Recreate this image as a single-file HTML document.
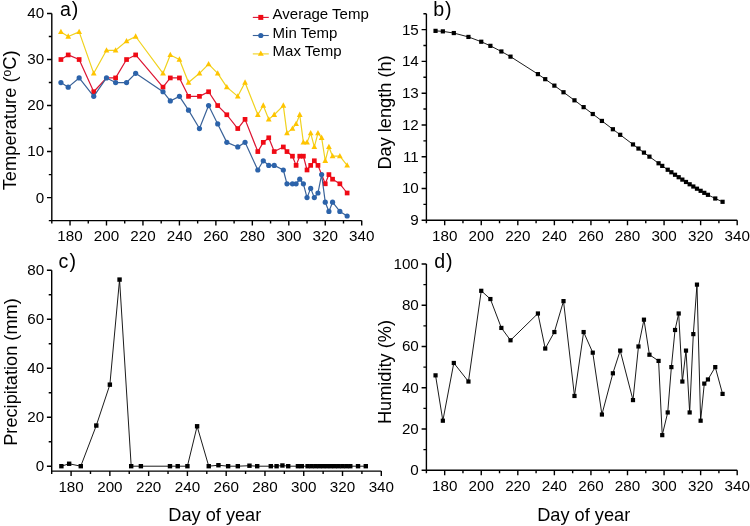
<!DOCTYPE html>
<html><head><meta charset="utf-8"><style>
html,body{margin:0;padding:0;background:#fff;width:750px;height:526px;overflow:hidden}
svg{display:block;will-change:transform}
</style></head><body>
<svg width="750" height="526" viewBox="0 0 750 526">
<g font-family="Liberation Sans, sans-serif" font-size="15.2" fill="#000">
<path d="M51.8 13.5V220.61H361.73" fill="none" stroke="#000" stroke-width="1.4"/>
<path d="M51.8 197.6h-4.8M51.8 151.57h-4.8M51.8 105.55h-4.8M51.8 59.53h-4.8M51.8 13.5h-4.8M51.8 220.61h-3M51.8 174.59h-3M51.8 128.56h-3M51.8 82.54h-3M51.8 36.51h-3M70.03 220.61v5M106.49 220.61v5M142.95 220.61v5M179.42 220.61v5M215.88 220.61v5M252.34 220.61v5M288.8 220.61v5M325.26 220.61v5M361.73 220.61v5M51.8 220.61v3M88.26 220.61v3M124.72 220.61v3M161.19 220.61v3M197.65 220.61v3M234.11 220.61v3M270.57 220.61v3M307.03 220.61v3M343.5 220.61v3" stroke="#000" stroke-width="1.4"/>
<text x="70.03" y="241.11" text-anchor="middle">180</text>
<text x="106.49" y="241.11" text-anchor="middle">200</text>
<text x="142.95" y="241.11" text-anchor="middle">220</text>
<text x="179.42" y="241.11" text-anchor="middle">240</text>
<text x="215.88" y="241.11" text-anchor="middle">260</text>
<text x="252.34" y="241.11" text-anchor="middle">280</text>
<text x="288.8" y="241.11" text-anchor="middle">300</text>
<text x="325.26" y="241.11" text-anchor="middle">320</text>
<text x="361.73" y="241.11" text-anchor="middle">340</text>
<text x="44.2" y="202.5" text-anchor="end">0</text>
<text x="44.2" y="156.47" text-anchor="end">10</text>
<text x="44.2" y="110.45" text-anchor="end">20</text>
<text x="44.2" y="64.43" text-anchor="end">30</text>
<text x="44.2" y="18.4" text-anchor="end">40</text>
<path d="M426.4 13.73V220.3H737.19" fill="none" stroke="#000" stroke-width="1.4"/>
<path d="M426.4 220.3h-4.8M426.4 188.52h-4.8M426.4 156.74h-4.8M426.4 124.96h-4.8M426.4 93.18h-4.8M426.4 61.4h-4.8M426.4 29.62h-4.8M426.4 204.41h-3M426.4 172.63h-3M426.4 140.85h-3M426.4 109.07h-3M426.4 77.29h-3M426.4 45.51h-3M426.4 13.73h-3M444.68 220.3v5M481.25 220.3v5M517.81 220.3v5M554.37 220.3v5M590.94 220.3v5M627.5 220.3v5M664.07 220.3v5M700.63 220.3v5M737.19 220.3v5M426.4 220.3v3M462.96 220.3v3M499.53 220.3v3M536.09 220.3v3M572.66 220.3v3M609.22 220.3v3M645.78 220.3v3M682.35 220.3v3M718.91 220.3v3" stroke="#000" stroke-width="1.4"/>
<text x="444.68" y="240.8" text-anchor="middle">180</text>
<text x="481.25" y="240.8" text-anchor="middle">200</text>
<text x="517.81" y="240.8" text-anchor="middle">220</text>
<text x="554.37" y="240.8" text-anchor="middle">240</text>
<text x="590.94" y="240.8" text-anchor="middle">260</text>
<text x="627.5" y="240.8" text-anchor="middle">280</text>
<text x="664.07" y="240.8" text-anchor="middle">300</text>
<text x="700.63" y="240.8" text-anchor="middle">320</text>
<text x="737.19" y="240.8" text-anchor="middle">340</text>
<text x="418.8" y="225.2" text-anchor="end">9</text>
<text x="418.8" y="193.42" text-anchor="end">10</text>
<text x="418.8" y="161.64" text-anchor="end">11</text>
<text x="418.8" y="129.86" text-anchor="end">12</text>
<text x="418.8" y="98.08" text-anchor="end">13</text>
<text x="418.8" y="66.3" text-anchor="end">14</text>
<text x="418.8" y="34.52" text-anchor="end">15</text>
<path d="M51.7 270.28V471.1H381.3" fill="none" stroke="#000" stroke-width="1.4"/>
<path d="M51.7 466.2h-4.8M51.7 417.22h-4.8M51.7 368.24h-4.8M51.7 319.26h-4.8M51.7 270.28h-4.8M51.7 441.71h-3M51.7 392.73h-3M51.7 343.75h-3M51.7 294.77h-3M71.09 471.1v5M109.86 471.1v5M148.64 471.1v5M187.42 471.1v5M226.19 471.1v5M264.97 471.1v5M303.74 471.1v5M342.52 471.1v5M381.3 471.1v5M51.7 471.1v3M90.48 471.1v3M129.25 471.1v3M168.03 471.1v3M206.8 471.1v3M245.58 471.1v3M284.36 471.1v3M323.13 471.1v3M361.91 471.1v3" stroke="#000" stroke-width="1.4"/>
<text x="71.09" y="491.6" text-anchor="middle">180</text>
<text x="109.86" y="491.6" text-anchor="middle">200</text>
<text x="148.64" y="491.6" text-anchor="middle">220</text>
<text x="187.42" y="491.6" text-anchor="middle">240</text>
<text x="226.19" y="491.6" text-anchor="middle">260</text>
<text x="264.97" y="491.6" text-anchor="middle">280</text>
<text x="303.74" y="491.6" text-anchor="middle">300</text>
<text x="342.52" y="491.6" text-anchor="middle">320</text>
<text x="381.3" y="491.6" text-anchor="middle">340</text>
<text x="44.1" y="471.1" text-anchor="end">0</text>
<text x="44.1" y="422.12" text-anchor="end">20</text>
<text x="44.1" y="373.14" text-anchor="end">40</text>
<text x="44.1" y="324.16" text-anchor="end">60</text>
<text x="44.1" y="275.18" text-anchor="end">80</text>
<path d="M426.4 264V470.2H737.19" fill="none" stroke="#000" stroke-width="1.4"/>
<path d="M426.4 470.2h-4.8M426.4 428.96h-4.8M426.4 387.72h-4.8M426.4 346.48h-4.8M426.4 305.24h-4.8M426.4 264h-4.8M426.4 449.58h-3M426.4 408.34h-3M426.4 367.1h-3M426.4 325.86h-3M426.4 284.62h-3M444.68 470.2v5M481.25 470.2v5M517.81 470.2v5M554.37 470.2v5M590.94 470.2v5M627.5 470.2v5M664.07 470.2v5M700.63 470.2v5M737.19 470.2v5M426.4 470.2v3M462.96 470.2v3M499.53 470.2v3M536.09 470.2v3M572.66 470.2v3M609.22 470.2v3M645.78 470.2v3M682.35 470.2v3M718.91 470.2v3" stroke="#000" stroke-width="1.4"/>
<text x="444.68" y="490.7" text-anchor="middle">180</text>
<text x="481.25" y="490.7" text-anchor="middle">200</text>
<text x="517.81" y="490.7" text-anchor="middle">220</text>
<text x="554.37" y="490.7" text-anchor="middle">240</text>
<text x="590.94" y="490.7" text-anchor="middle">260</text>
<text x="627.5" y="490.7" text-anchor="middle">280</text>
<text x="664.07" y="490.7" text-anchor="middle">300</text>
<text x="700.63" y="490.7" text-anchor="middle">320</text>
<text x="737.19" y="490.7" text-anchor="middle">340</text>
<text x="418.8" y="475.1" text-anchor="end">0</text>
<text x="418.8" y="433.86" text-anchor="end">20</text>
<text x="418.8" y="392.62" text-anchor="end">40</text>
<text x="418.8" y="351.38" text-anchor="end">60</text>
<text x="418.8" y="310.14" text-anchor="end">80</text>
<text x="418.8" y="268.9" text-anchor="end">100</text>
</g>
<polyline points="60.92,31.91 68.21,36.51 79.15,31.91 93.73,73.33 106.49,50.32 115.61,50.32 126.55,41.11 135.66,36.51 163.01,73.33 170.3,54.92 179.42,59.53 188.53,82.54 199.47,73.33 208.59,64.13 217.7,73.33 226.82,87.14 237.76,96.34 245.05,82.54 257.81,114.75 263.28,105.55 268.75,119.36 274.22,114.75 283.33,105.55 286.98,133.16 292.45,128.56 296.1,123.96 299.74,114.75 303.39,142.37 307.03,142.37 310.68,133.16 314.33,146.97 317.97,133.16 321.62,137.77 325.26,160.78 328.91,146.97 332.56,156.18 339.85,156.18 347.14,165.38" fill="none" stroke="#f0d21e" stroke-width="1.2" stroke-linejoin="round"/>
<g fill="#ffc400"><path d="M60.92 28.73L63.78 34.03H58.05Z"/><path d="M68.21 33.33L71.07 38.63H65.35Z"/><path d="M79.15 28.73L82.01 34.03H76.28Z"/><path d="M93.73 70.15L96.59 75.45H90.87Z"/><path d="M106.49 47.14L109.35 52.44H103.63Z"/><path d="M115.61 47.14L118.47 52.44H112.75Z"/><path d="M126.55 37.93L129.41 43.23H123.69Z"/><path d="M135.66 33.33L138.52 38.63H132.8Z"/><path d="M163.01 70.15L165.87 75.45H160.15Z"/><path d="M170.3 51.74L173.16 57.04H167.44Z"/><path d="M179.42 56.35L182.28 61.65H176.55Z"/><path d="M188.53 79.36L191.39 84.66H185.67Z"/><path d="M199.47 70.15L202.33 75.45H196.61Z"/><path d="M208.59 60.95L211.45 66.25H205.72Z"/><path d="M217.7 70.15L220.56 75.45H214.84Z"/><path d="M226.82 83.96L229.68 89.26H223.96Z"/><path d="M237.76 93.16L240.62 98.47H234.89Z"/><path d="M245.05 79.36L247.91 84.66H242.19Z"/><path d="M257.81 111.57L260.67 116.88H254.95Z"/><path d="M263.28 102.37L266.14 107.67H260.42Z"/><path d="M268.75 116.18L271.61 121.48H265.89Z"/><path d="M274.22 111.57L277.08 116.88H271.36Z"/><path d="M283.33 102.37L286.2 107.67H280.47Z"/><path d="M286.98 129.98L289.84 135.28H284.12Z"/><path d="M292.45 125.38L295.31 130.68H289.59Z"/><path d="M296.1 120.78L298.96 126.08H293.23Z"/><path d="M299.74 111.57L302.6 116.88H296.88Z"/><path d="M303.39 139.19L306.25 144.49H300.53Z"/><path d="M307.03 139.19L309.9 144.49H304.17Z"/><path d="M310.68 129.98L313.54 135.28H307.82Z"/><path d="M314.33 143.79L317.19 149.09H311.46Z"/><path d="M317.97 129.98L320.83 135.28H315.11Z"/><path d="M321.62 134.59L324.48 139.89H318.76Z"/><path d="M325.26 157.6L328.13 162.9H322.4Z"/><path d="M328.91 143.79L331.77 149.09H326.05Z"/><path d="M332.56 153L335.42 158.3H329.7Z"/><path d="M339.85 153L342.71 158.3H336.99Z"/><path d="M347.14 162.2L350 167.5H344.28Z"/></g>
<polyline points="60.92,59.53 68.21,54.92 79.15,59.53 93.73,91.74 106.49,77.93 115.61,77.93 126.55,59.53 135.66,54.92 163.01,87.14 170.3,77.93 179.42,77.93 188.53,96.34 199.47,96.34 208.59,91.74 217.7,105.55 226.82,114.75 237.76,128.56 245.05,119.36 257.81,151.57 263.28,142.37 268.75,137.77 274.22,151.57 283.33,146.97 286.98,151.57 292.45,156.18 296.1,165.38 299.74,156.18 303.39,156.18 307.03,169.98 310.68,165.38 314.33,160.78 317.97,165.38 321.62,174.59 325.26,183.79 328.91,174.59 332.56,179.19 339.85,183.79 347.14,193" fill="none" stroke="#dc1432" stroke-width="1.2" stroke-linejoin="round"/>
<g fill="#f00a14"><rect x="58.57" y="57.18" width="4.7" height="4.7"/><rect x="65.86" y="52.57" width="4.7" height="4.7"/><rect x="76.8" y="57.18" width="4.7" height="4.7"/><rect x="91.38" y="89.39" width="4.7" height="4.7"/><rect x="113.26" y="75.58" width="4.7" height="4.7"/><rect x="124.2" y="57.18" width="4.7" height="4.7"/><rect x="133.31" y="52.57" width="4.7" height="4.7"/><rect x="160.66" y="84.79" width="4.7" height="4.7"/><rect x="167.95" y="75.58" width="4.7" height="4.7"/><rect x="177.07" y="75.58" width="4.7" height="4.7"/><rect x="186.18" y="94" width="4.7" height="4.7"/><rect x="197.12" y="94" width="4.7" height="4.7"/><rect x="206.24" y="89.39" width="4.7" height="4.7"/><rect x="215.35" y="103.2" width="4.7" height="4.7"/><rect x="224.47" y="112.41" width="4.7" height="4.7"/><rect x="235.41" y="126.21" width="4.7" height="4.7"/><rect x="242.7" y="117.01" width="4.7" height="4.7"/><rect x="255.46" y="149.22" width="4.7" height="4.7"/><rect x="260.93" y="140.02" width="4.7" height="4.7"/><rect x="266.4" y="135.42" width="4.7" height="4.7"/><rect x="271.87" y="149.22" width="4.7" height="4.7"/><rect x="280.98" y="144.62" width="4.7" height="4.7"/><rect x="284.63" y="149.22" width="4.7" height="4.7"/><rect x="290.1" y="153.83" width="4.7" height="4.7"/><rect x="293.75" y="163.03" width="4.7" height="4.7"/><rect x="297.39" y="153.83" width="4.7" height="4.7"/><rect x="301.04" y="153.83" width="4.7" height="4.7"/><rect x="304.68" y="167.63" width="4.7" height="4.7"/><rect x="308.33" y="163.03" width="4.7" height="4.7"/><rect x="311.98" y="158.43" width="4.7" height="4.7"/><rect x="315.62" y="163.03" width="4.7" height="4.7"/><rect x="322.91" y="181.44" width="4.7" height="4.7"/><rect x="326.56" y="172.24" width="4.7" height="4.7"/><rect x="330.21" y="176.84" width="4.7" height="4.7"/><rect x="337.5" y="181.44" width="4.7" height="4.7"/><rect x="344.79" y="190.65" width="4.7" height="4.7"/></g>
<polyline points="60.92,82.54 68.21,87.14 79.15,77.93 93.73,96.34 106.49,77.93 115.61,82.54 126.55,82.54 135.66,73.33 163.01,91.74 170.3,100.95 179.42,96.34 188.53,110.15 199.47,128.56 208.59,105.55 217.7,123.96 226.82,142.37 237.76,146.97 245.05,142.37 257.81,169.98 263.28,160.78 268.75,165.38 274.22,165.38 283.33,169.98 286.98,183.79 292.45,183.79 296.1,183.79 299.74,179.19 303.39,183.79 307.03,197.6 310.68,188.39 314.33,197.6 317.97,193 321.62,174.59 325.26,202.2 328.91,211.41 332.56,202.2 339.85,211.41 347.14,216.01" fill="none" stroke="#3a6298" stroke-width="1.2" stroke-linejoin="round"/>
<g fill="#2c63aa"><circle cx="60.92" cy="82.54" r="2.6"/><circle cx="68.21" cy="87.14" r="2.6"/><circle cx="79.15" cy="77.93" r="2.6"/><circle cx="93.73" cy="96.34" r="2.6"/><circle cx="106.49" cy="77.93" r="2.6"/><circle cx="115.61" cy="82.54" r="2.6"/><circle cx="126.55" cy="82.54" r="2.6"/><circle cx="135.66" cy="73.33" r="2.6"/><circle cx="163.01" cy="91.74" r="2.6"/><circle cx="170.3" cy="100.95" r="2.6"/><circle cx="179.42" cy="96.34" r="2.6"/><circle cx="188.53" cy="110.15" r="2.6"/><circle cx="199.47" cy="128.56" r="2.6"/><circle cx="208.59" cy="105.55" r="2.6"/><circle cx="217.7" cy="123.96" r="2.6"/><circle cx="226.82" cy="142.37" r="2.6"/><circle cx="237.76" cy="146.97" r="2.6"/><circle cx="245.05" cy="142.37" r="2.6"/><circle cx="257.81" cy="169.98" r="2.6"/><circle cx="263.28" cy="160.78" r="2.6"/><circle cx="268.75" cy="165.38" r="2.6"/><circle cx="274.22" cy="165.38" r="2.6"/><circle cx="283.33" cy="169.98" r="2.6"/><circle cx="286.98" cy="183.79" r="2.6"/><circle cx="292.45" cy="183.79" r="2.6"/><circle cx="296.1" cy="183.79" r="2.6"/><circle cx="299.74" cy="179.19" r="2.6"/><circle cx="303.39" cy="183.79" r="2.6"/><circle cx="307.03" cy="197.6" r="2.6"/><circle cx="310.68" cy="188.39" r="2.6"/><circle cx="314.33" cy="197.6" r="2.6"/><circle cx="317.97" cy="193" r="2.6"/><circle cx="321.62" cy="174.59" r="2.6"/><circle cx="325.26" cy="202.2" r="2.6"/><circle cx="328.91" cy="211.41" r="2.6"/><circle cx="332.56" cy="202.2" r="2.6"/><circle cx="339.85" cy="211.41" r="2.6"/><circle cx="347.14" cy="216.01" r="2.6"/></g>
<polyline points="435.54,30.86 442.85,31.36 453.82,33.05 468.45,36.93 481.25,41.73 490.39,45.85 501.36,51.47 510.5,56.64 537.92,74.12 545.23,79.17 554.37,85.63 563.51,92.24 574.48,100.31 583.63,107.14 592.77,114.02 601.91,120.93 612.88,129.25 620.19,134.8 632.99,144.44 638.47,148.55 643.96,152.62 649.44,156.65 658.58,163.28 662.24,165.89 667.72,169.74 671.38,172.27 675.04,174.76 678.69,177.21 682.35,179.61 686,181.97 689.66,184.27 693.32,186.51 696.97,188.7 700.63,190.81 704.29,192.85 707.94,194.82 715.26,198.5 722.57,201.81" fill="none" stroke="#000" stroke-width="0.9" stroke-linejoin="round"/>
<g fill="#000"><rect x="433.44" y="28.76" width="4.2" height="4.2"/><rect x="440.75" y="29.26" width="4.2" height="4.2"/><rect x="451.72" y="30.95" width="4.2" height="4.2"/><rect x="466.35" y="34.83" width="4.2" height="4.2"/><rect x="479.15" y="39.63" width="4.2" height="4.2"/><rect x="488.29" y="43.75" width="4.2" height="4.2"/><rect x="499.26" y="49.37" width="4.2" height="4.2"/><rect x="508.4" y="54.54" width="4.2" height="4.2"/><rect x="535.82" y="72.02" width="4.2" height="4.2"/><rect x="543.13" y="77.07" width="4.2" height="4.2"/><rect x="552.27" y="83.53" width="4.2" height="4.2"/><rect x="561.41" y="90.14" width="4.2" height="4.2"/><rect x="572.38" y="98.21" width="4.2" height="4.2"/><rect x="581.53" y="105.04" width="4.2" height="4.2"/><rect x="590.67" y="111.92" width="4.2" height="4.2"/><rect x="599.81" y="118.83" width="4.2" height="4.2"/><rect x="610.78" y="127.15" width="4.2" height="4.2"/><rect x="618.09" y="132.7" width="4.2" height="4.2"/><rect x="630.89" y="142.34" width="4.2" height="4.2"/><rect x="636.37" y="146.45" width="4.2" height="4.2"/><rect x="641.86" y="150.52" width="4.2" height="4.2"/><rect x="647.34" y="154.55" width="4.2" height="4.2"/><rect x="656.48" y="161.18" width="4.2" height="4.2"/><rect x="660.14" y="163.79" width="4.2" height="4.2"/><rect x="665.62" y="167.64" width="4.2" height="4.2"/><rect x="669.28" y="170.17" width="4.2" height="4.2"/><rect x="672.94" y="172.66" width="4.2" height="4.2"/><rect x="676.59" y="175.11" width="4.2" height="4.2"/><rect x="680.25" y="177.51" width="4.2" height="4.2"/><rect x="683.9" y="179.87" width="4.2" height="4.2"/><rect x="687.56" y="182.17" width="4.2" height="4.2"/><rect x="691.22" y="184.41" width="4.2" height="4.2"/><rect x="694.87" y="186.6" width="4.2" height="4.2"/><rect x="698.53" y="188.71" width="4.2" height="4.2"/><rect x="702.19" y="190.75" width="4.2" height="4.2"/><rect x="705.84" y="192.72" width="4.2" height="4.2"/><rect x="713.16" y="196.4" width="4.2" height="4.2"/><rect x="720.47" y="199.71" width="4.2" height="4.2"/></g>
<polyline points="61.39,466.2 69.15,463.75 80.78,466.2 96.29,425.55 109.86,384.65 119.56,279.59 131.19,466.2 140.88,466.2 169.97,466.2 177.72,466.2 187.42,466.2 197.11,426.28 208.74,466.2 218.44,465.22 228.13,466.2 237.82,466.2 249.46,465.71 257.21,466.2 270.78,466.2 276.6,466.2 282.42,465.47 288.23,466.2 297.93,466.2 301.81,466.2 307.62,466.2 311.5,466.2 315.38,466.2 319.25,466.2 323.13,466.2 327.01,466.2 330.89,466.2 334.76,466.2 338.64,466.2 342.52,466.2 346.4,466.2 350.28,466.2 358.03,466.2 365.79,466.2" fill="none" stroke="#000" stroke-width="0.9" stroke-linejoin="round"/>
<g fill="#000"><rect x="59.19" y="464" width="4.4" height="4.4"/><rect x="66.95" y="461.55" width="4.4" height="4.4"/><rect x="78.58" y="464" width="4.4" height="4.4"/><rect x="94.09" y="423.35" width="4.4" height="4.4"/><rect x="107.66" y="382.45" width="4.4" height="4.4"/><rect x="117.36" y="277.39" width="4.4" height="4.4"/><rect x="128.99" y="464" width="4.4" height="4.4"/><rect x="138.68" y="464" width="4.4" height="4.4"/><rect x="167.77" y="464" width="4.4" height="4.4"/><rect x="175.52" y="464" width="4.4" height="4.4"/><rect x="185.22" y="464" width="4.4" height="4.4"/><rect x="194.91" y="424.08" width="4.4" height="4.4"/><rect x="206.54" y="464" width="4.4" height="4.4"/><rect x="216.24" y="463.02" width="4.4" height="4.4"/><rect x="225.93" y="464" width="4.4" height="4.4"/><rect x="235.62" y="464" width="4.4" height="4.4"/><rect x="247.26" y="463.51" width="4.4" height="4.4"/><rect x="255.01" y="464" width="4.4" height="4.4"/><rect x="268.58" y="464" width="4.4" height="4.4"/><rect x="274.4" y="464" width="4.4" height="4.4"/><rect x="280.22" y="463.27" width="4.4" height="4.4"/><rect x="286.03" y="464" width="4.4" height="4.4"/><rect x="295.73" y="464" width="4.4" height="4.4"/><rect x="299.61" y="464" width="4.4" height="4.4"/><rect x="305.42" y="464" width="4.4" height="4.4"/><rect x="309.3" y="464" width="4.4" height="4.4"/><rect x="313.18" y="464" width="4.4" height="4.4"/><rect x="317.05" y="464" width="4.4" height="4.4"/><rect x="320.93" y="464" width="4.4" height="4.4"/><rect x="324.81" y="464" width="4.4" height="4.4"/><rect x="328.69" y="464" width="4.4" height="4.4"/><rect x="332.56" y="464" width="4.4" height="4.4"/><rect x="336.44" y="464" width="4.4" height="4.4"/><rect x="340.32" y="464" width="4.4" height="4.4"/><rect x="344.2" y="464" width="4.4" height="4.4"/><rect x="348.08" y="464" width="4.4" height="4.4"/><rect x="355.83" y="464" width="4.4" height="4.4"/><rect x="363.59" y="464" width="4.4" height="4.4"/></g>
<polyline points="435.54,375.35 442.85,420.71 453.82,362.98 468.45,381.53 481.25,290.81 490.39,299.05 501.36,327.92 510.5,340.29 537.92,313.49 545.23,348.54 554.37,332.05 563.51,301.12 574.48,395.97 583.63,332.05 592.77,352.67 601.91,414.53 612.88,373.29 620.19,350.6 632.99,400.09 638.47,346.48 643.96,319.67 649.44,354.73 658.58,360.91 662.24,435.15 667.72,412.46 671.38,367.1 675.04,329.98 678.69,313.49 682.35,381.53 686,350.6 689.66,412.46 693.32,334.11 696.97,284.62 700.63,420.71 704.29,383.6 707.94,379.47 715.26,367.1 722.57,393.91" fill="none" stroke="#000" stroke-width="0.9" stroke-linejoin="round"/>
<g fill="#000"><rect x="433.44" y="373.25" width="4.2" height="4.2"/><rect x="440.75" y="418.61" width="4.2" height="4.2"/><rect x="451.72" y="360.88" width="4.2" height="4.2"/><rect x="466.35" y="379.43" width="4.2" height="4.2"/><rect x="479.15" y="288.71" width="4.2" height="4.2"/><rect x="488.29" y="296.95" width="4.2" height="4.2"/><rect x="499.26" y="325.82" width="4.2" height="4.2"/><rect x="508.4" y="338.19" width="4.2" height="4.2"/><rect x="535.82" y="311.39" width="4.2" height="4.2"/><rect x="543.13" y="346.44" width="4.2" height="4.2"/><rect x="552.27" y="329.95" width="4.2" height="4.2"/><rect x="561.41" y="299.02" width="4.2" height="4.2"/><rect x="572.38" y="393.87" width="4.2" height="4.2"/><rect x="581.53" y="329.95" width="4.2" height="4.2"/><rect x="590.67" y="350.57" width="4.2" height="4.2"/><rect x="599.81" y="412.43" width="4.2" height="4.2"/><rect x="610.78" y="371.19" width="4.2" height="4.2"/><rect x="618.09" y="348.5" width="4.2" height="4.2"/><rect x="630.89" y="397.99" width="4.2" height="4.2"/><rect x="636.37" y="344.38" width="4.2" height="4.2"/><rect x="641.86" y="317.57" width="4.2" height="4.2"/><rect x="647.34" y="352.63" width="4.2" height="4.2"/><rect x="656.48" y="358.81" width="4.2" height="4.2"/><rect x="660.14" y="433.05" width="4.2" height="4.2"/><rect x="665.62" y="410.36" width="4.2" height="4.2"/><rect x="669.28" y="365" width="4.2" height="4.2"/><rect x="672.94" y="327.88" width="4.2" height="4.2"/><rect x="676.59" y="311.39" width="4.2" height="4.2"/><rect x="680.25" y="379.43" width="4.2" height="4.2"/><rect x="683.9" y="348.5" width="4.2" height="4.2"/><rect x="687.56" y="410.36" width="4.2" height="4.2"/><rect x="691.22" y="332.01" width="4.2" height="4.2"/><rect x="694.87" y="282.52" width="4.2" height="4.2"/><rect x="698.53" y="418.61" width="4.2" height="4.2"/><rect x="702.19" y="381.5" width="4.2" height="4.2"/><rect x="705.84" y="377.37" width="4.2" height="4.2"/><rect x="713.16" y="365" width="4.2" height="4.2"/><rect x="720.47" y="391.81" width="4.2" height="4.2"/></g>
<line x1="252.8" y1="17.4" x2="268.8" y2="17.4" stroke="#dc1432" stroke-width="1.1"/>
<rect x="258.3" y="14.9" width="5" height="5" fill="#f00a14"/>
<text x="272.6" y="19.4" font-family="Liberation Sans, sans-serif" font-size="15">Average Temp</text>
<line x1="252.8" y1="35.5" x2="268.8" y2="35.5" stroke="#3a6298" stroke-width="1.1"/>
<circle cx="260.8" cy="35.5" r="2.6" fill="#2c63aa"/>
<text x="272.6" y="37.7" font-family="Liberation Sans, sans-serif" font-size="15">Min Temp</text>
<line x1="252.8" y1="53.9" x2="268.8" y2="53.9" stroke="#f0d21e" stroke-width="1.1"/>
<path d="M260.8 50.5L263.8 55.7H257.8Z" fill="#ffc400"/>
<text x="272.6" y="56" font-family="Liberation Sans, sans-serif" font-size="15">Max Temp</text>
<text x="59.9" y="15.6" font-family="Liberation Sans, sans-serif" font-size="19.6" letter-spacing="1">a)</text>
<text x="433.2" y="15.6" font-family="Liberation Sans, sans-serif" font-size="19.6" letter-spacing="1">b)</text>
<text x="58.6" y="268.3" font-family="Liberation Sans, sans-serif" font-size="19.6" letter-spacing="1">c)</text>
<text x="434.2" y="268.3" font-family="Liberation Sans, sans-serif" font-size="19.6" letter-spacing="1">d)</text>
<text transform="translate(16.4,190.3) rotate(-90)" font-family="Liberation Sans, sans-serif" font-size="18.3">Temperature (<tspan font-size="12" dy="-5">o</tspan><tspan dy="5">C)</tspan></text>
<text transform="translate(390.8,169.6) rotate(-90)" font-family="Liberation Sans, sans-serif" font-size="18.2">Day length (h)</text>
<text transform="translate(16.5,445.8) rotate(-90)" font-family="Liberation Sans, sans-serif" font-size="18.2">Precipitation (mm)</text>
<text transform="translate(390.8,424.1) rotate(-90)" font-family="Liberation Sans, sans-serif" font-size="18.2">Humidity (%)</text>
<text x="168.3" y="521.0" font-family="Liberation Sans, sans-serif" font-size="18.2">Day of year</text>
<text x="537.2" y="521.3" font-family="Liberation Sans, sans-serif" font-size="18.2">Day of year</text>
</svg>
</body></html>
